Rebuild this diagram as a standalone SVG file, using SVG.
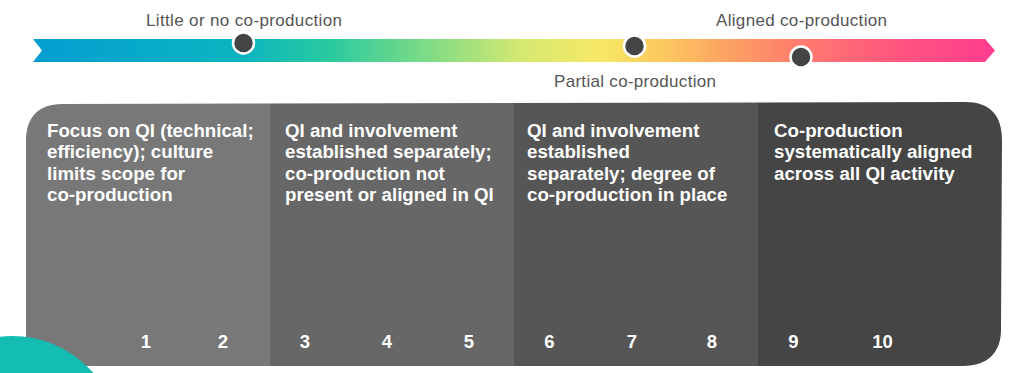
<svg xmlns="http://www.w3.org/2000/svg" width="1024" height="373" viewBox="0 0 1024 373">
  <defs>
    <linearGradient id="bar" x1="33" y1="0" x2="995" y2="0" gradientUnits="userSpaceOnUse">
      <stop offset="0" stop-color="#039ED2"/>
      <stop offset="0.22" stop-color="#0BB5C0"/>
      <stop offset="0.31" stop-color="#2ACB9E"/>
      <stop offset="0.41" stop-color="#7EDB86"/>
      <stop offset="0.51" stop-color="#D6E970"/>
      <stop offset="0.59" stop-color="#F7E866"/>
      <stop offset="0.65" stop-color="#FCCB5F"/>
      <stop offset="0.71" stop-color="#FCA961"/>
      <stop offset="0.80" stop-color="#FF7A6E"/>
      <stop offset="0.90" stop-color="#FF5580"/>
      <stop offset="1" stop-color="#FF3D8E"/>
    </linearGradient>
    <clipPath id="panelClip">
      <path d="M26,140 C26,118 38,104 62,104 L965,102 C990,102 1002,115 1002,140 L1001,330 C1001,352 988,366 963,366 L32,366 C28,366 26,362 26,358 Z"/>
    </clipPath>
  </defs>
  <style>
    .lbl { font-family: "Liberation Sans", Arial, sans-serif; font-size: 17px; fill: #555555; }
    .col { font-family: "Liberation Sans", Arial, sans-serif; font-size: 18.7px; font-weight: bold; fill: #ffffff; }
    .num { font-family: "Liberation Sans", Arial, sans-serif; font-size: 18.5px; font-weight: bold; fill: #ffffff; text-anchor: middle; }
    .dot { fill: #444444; stroke: #ffffff; stroke-width: 2.5; }
  </style>

  <g id="scale">
    <polygon points="33,39 985,39 995,50.5 985,62 33,62 42,50.5" fill="url(#bar)"/>
    <text class="lbl" x="146" y="26" textLength="196">Little or no co-production</text>
    <text class="lbl" x="716" y="26" textLength="171">Aligned co-production</text>
    <text class="lbl" x="554" y="87" textLength="162">Partial co-production</text>
  </g>

  <g id="markers">
    <circle class="dot" cx="243.5" cy="43" r="10.5"/>
    <circle class="dot" cx="634.5" cy="46" r="10.5"/>
    <circle class="dot" cx="801" cy="57" r="10.5"/>
  </g>

  <g id="panel" clip-path="url(#panelClip)">
    <g id="stage1">
      <rect x="20" y="95" width="250" height="280" fill="#787878"/>
      <text class="col" x="47" y="137">Focus on QI (technical;</text>
      <text class="col" x="47" y="158.3">efficiency); culture</text>
      <text class="col" x="47" y="179.6">limits scope for</text>
      <text class="col" x="47" y="201">co-production</text>
      <text class="num" x="146" y="348">1</text>
      <text class="num" x="223" y="348">2</text>
    </g>
    <g id="stage2">
      <rect x="270" y="95" width="244" height="280" fill="#676767"/>
      <text class="col" x="285" y="137">QI and involvement</text>
      <text class="col" x="285" y="158.3">established separately;</text>
      <text class="col" x="285" y="179.6">co-production not</text>
      <text class="col" x="285" y="201">present or aligned in QI</text>
      <text class="num" x="305" y="348">3</text>
      <text class="num" x="387" y="348">4</text>
      <text class="num" x="469" y="348">5</text>
    </g>
    <g id="stage3">
      <rect x="514" y="95" width="244" height="280" fill="#565656"/>
      <text class="col" x="527" y="137">QI and involvement</text>
      <text class="col" x="527" y="158.3">established</text>
      <text class="col" x="527" y="179.6">separately; degree of</text>
      <text class="col" x="527" y="201">co-production in place</text>
      <text class="num" x="549.5" y="348">6</text>
      <text class="num" x="632" y="348">7</text>
      <text class="num" x="712" y="348">8</text>
    </g>
    <g id="stage4">
      <rect x="758" y="95" width="250" height="280" fill="#454545"/>
      <text class="col" x="774" y="137">Co-production</text>
      <text class="col" x="774" y="158.3">systematically aligned</text>
      <text class="col" x="774" y="179.6">across all QI activity</text>
      <text class="num" x="793.5" y="348">9</text>
      <text class="num" x="882.5" y="348">10</text>
    </g>
  </g>

  <circle id="teal-accent" cx="12" cy="444" r="108" fill="#13BDB1"/>
</svg>
